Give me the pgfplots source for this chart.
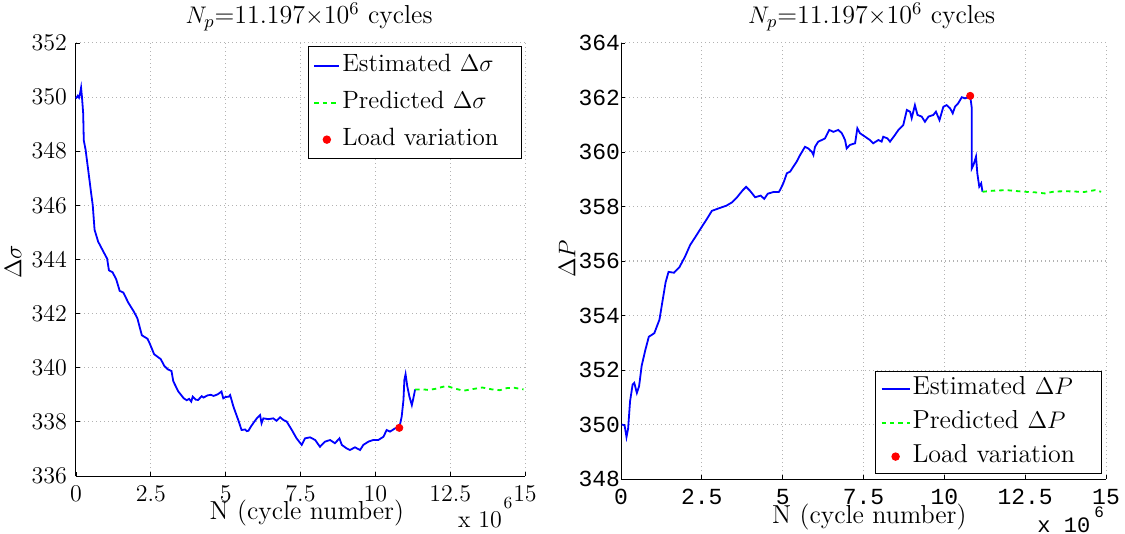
\documentclass[border=0pt]{standalone}
\usepackage{fontspec}
\usepackage{pgfplots}
\pgfplotsset{compat=1.18}
\newfontfamily\monofont{Liberation Mono}

\definecolor{mblue}{rgb}{0,0,1}
\definecolor{mgreen}{rgb}{0,1,0}
\definecolor{mred}{rgb}{1,0,0}

\pgfplotsset{
  matlab/.style={
    scale only axis, clip=false,
    axis x line*=bottom, axis y line*=left,
    axis line style={-, line width=0.5pt},
    xmin=0, xmax=15, xtick={0,2.5,5,7.5,10,12.5,15},
    grid=major,
    major grid style={gray!60, line width=0.5pt, dash pattern=on 0.5pt off 1.5pt},
    tick align=inside, major tick length=2pt,
    tick style={black, line width=0.4pt},
    xticklabel style={yshift=-1.5pt},
    xlabel style={font=\fontsize{13}{15}\selectfont},
    ylabel style={font=\fontsize{12}{14}\selectfont},
    legend cell align=left,
    legend style={font=\fontsize{12.5}{15}\selectfont, draw=black, line width=0.6pt,
      inner xsep=2.5pt, inner ysep=3.5pt, row sep=6.5pt,
      nodes={inner xsep=1pt, inner ysep=0pt, text height=9pt, text depth=3pt}},
  },
  est/.style={mblue, line width=0.9pt,
    legend image code/.code={\draw[##1] (0pt,0pt) -- (12.5pt,0pt);}},
  pred/.style={mgreen, line width=0.9pt, dash pattern=on 2.2pt off 2pt,
    legend image code/.code={\draw[##1] (0pt,0pt) -- (12.5pt,0pt);}},
  dot/.style={only marks, mark=*, mark size=1.8pt, mark options={draw=mred, fill=mred},
    legend image code/.code={\fill[mred] (6.25pt,0pt) circle (1.8pt);}},
  estR/.style={est, legend image code/.code={\draw[##1] (0pt,0pt) -- (14pt,0pt);}},
  predR/.style={pred, legend image code/.code={\draw[##1] (0pt,0pt) -- (14pt,0pt);}},
  dotR/.style={dot, legend image code/.code={\fill[mred] (7pt,0pt) circle (1.8pt);}},
}

% Delta sigma, estimated (N in 10^6 cycles)
\pgfplotstableread{
x y
0 349.95
0.06 350.05
0.1 349.98
0.13 350.1
0.17 350.35
0.2 350.0
0.24 349.4
0.26 348.4
0.32 348.06
0.42 347.2
0.5 346.5
0.56 346.0
0.62 345.1
0.74 344.66
0.92 344.28
1.04 344.03
1.1 343.6
1.22 343.53
1.34 343.28
1.46 342.84
1.58 342.78
1.75 342.4
1.93 342.08
2.05 341.83
2.2 341.2
2.39 341.07
2.47 340.88
2.61 340.5
2.83 340.32
2.95 340.07
3.07 339.94
3.19 339.88
3.25 339.5
3.42 339.12
3.6 338.87
3.7 338.8
3.78 338.85
3.85 338.75
3.9 338.93
4.0 338.82
4.08 338.81
4.2 338.95
4.26 338.9
4.4 338.98
4.5 339.0
4.6 338.96
4.74 339.02
4.86 339.12
4.92 338.87
5.0 338.92
5.1 338.93
5.15 338.99
5.26 338.56
5.42 338.07
5.53 337.70
5.65 337.72
5.7 337.66
5.76 337.67
5.84 337.82
5.92 337.95
6.04 338.13
6.15 338.25
6.2 337.95
6.26 338.13
6.43 338.10
6.59 338.13
6.7 338.04
6.82 338.17
6.93 338.07
7.04 338.01
7.21 337.70
7.37 337.39
7.54 337.15
7.65 337.39
7.82 337.43
7.99 337.33
8.15 337.08
8.32 337.27
8.49 337.33
8.65 337.21
8.8 337.39
8.88 337.15
9.04 337.02
9.15 336.96
9.32 337.06
9.49 336.96
9.6 337.15
9.77 337.27
9.93 337.33
10.1 337.33
10.27 337.45
10.38 337.70
10.49 337.64
10.66 337.76
10.8 337.78
10.88 338.19
10.94 338.81
10.97 339.55
11.01 339.76
11.07 339.30
11.14 338.93
11.22 338.62
11.27 338.87
11.33 339.2
}\sigest

% Delta sigma, predicted
\pgfplotstableread{
x y
11.33 339.2
11.6 339.2
11.78 339.18
12.0 339.22
12.2 339.28
12.38 339.33
12.6 339.25
12.94 339.15
13.3 339.22
13.57 339.27
13.9 339.2
14.16 339.17
14.4 339.25
14.64 339.26
14.95 339.2
}\sigpred

% Delta P, estimated
\pgfplotstableread{
x y
0.02 350.0
0.11 349.97
0.17 349.54
0.22 349.85
0.28 350.85
0.36 351.47
0.41 351.53
0.49 351.16
0.56 351.41
0.64 352.16
0.75 352.72
0.86 353.22
1.03 353.35
1.19 353.85
1.31 354.72
1.38 355.22
1.47 355.6
1.64 355.57
1.81 355.78
1.98 356.16
2.14 356.59
2.31 356.9
2.48 357.22
2.65 357.53
2.81 357.84
3.04 357.94
3.26 358.03
3.43 358.15
3.59 358.34
3.76 358.59
3.87 358.72
3.98 358.59
4.15 358.34
4.32 358.4
4.43 358.28
4.54 358.47
4.71 358.53
4.88 358.53
4.92 358.61
5.02 358.85
5.13 359.22
5.23 359.28
5.33 359.46
5.43 359.64
5.54 359.89
5.69 360.19
5.79 360.13
5.9 360.01
5.95 359.89
6.0 360.19
6.1 360.38
6.21 360.44
6.31 360.5
6.44 360.81
6.57 360.74
6.72 360.81
6.83 360.69
6.93 360.44
6.98 360.13
7.08 360.26
7.24 360.32
7.31 360.87
7.39 360.69
7.55 360.56
7.7 360.44
7.8 360.32
7.96 360.44
8.06 360.38
8.11 360.56
8.24 360.5
8.32 360.38
8.47 360.62
8.58 360.81
8.73 360.99
8.84 361.54
8.94 361.48
8.99 361.24
9.09 361.72
9.17 361.36
9.3 361.3
9.4 361.11
9.51 361.3
9.66 361.36
9.74 361.48
9.85 361.17
9.97 361.66
10.07 361.72
10.18 361.6
10.26 361.42
10.33 361.66
10.43 361.79
10.54 362.01
10.64 361.97
10.74 362.01
10.8 362.06
10.85 361.6
10.85 361.05
10.85 359.4
10.9 359.52
10.95 359.71
10.98 359.83
11.02 359.22
11.08 358.73
11.14 358.85
11.18 358.54
}\pest

% Delta P, predicted
\pgfplotstableread{
x y
11.18 358.54
11.5 358.58
11.93 358.6
12.2 358.57
12.5 358.54
12.8 358.52
13.11 358.48
13.4 358.55
13.75 358.56
14.03 358.55
14.31 358.53
14.66 358.6
14.85 358.54
}\ppred

\begin{document}
\begin{tikzpicture}
\useasboundingbox (0,0) rectangle (562.5pt,-267pt);

\begin{axis}[matlab,
  at={(38pt,-238pt)}, anchor=south west,
  width=224.5pt, height=216.5pt,
  ymin=336, ymax=352, ytick={336,338,...,352},
  tick label style={font=\fontsize{11.5}{13}\selectfont},
  yticklabel style={xshift=-1pt},
  title={$N_p$=11.197$\times$10$^6$ cycles},
  every axis title/.style={at={(rel axis cs:0.519,1.06)}, anchor=center,
    font=\fontsize{13}{15}\selectfont},
  xlabel={N (cycle number)},
  xlabel style={at={(rel axis cs:0.514,-0.085)}, anchor=center},
  ylabel={$\Delta\sigma$},
  ylabel style={at={(rel axis cs:-0.14,0.494)}, anchor=center},
  legend style={at={(rel axis cs:0.993,0.993)}, anchor=north east,
    nodes={text width=86pt}},
]
\addplot[est] table[x=x,y=y]{\sigest};
\addlegendentry{Estimated $\Delta\sigma$}
\addplot[pred] table[x=x,y=y]{\sigpred};
\addlegendentry{Predicted $\Delta\sigma$}
\addplot[dot] coordinates {(10.8,337.78)};
\addlegendentry{Load variation}
\node[font=\fontsize{12}{14}\selectfont] at (rel axis cs:0.900,-0.102) {x 10};
\node[font=\fontsize{8.5}{10}\selectfont] at (rel axis cs:0.962,-0.062) {6};
\end{axis}

\begin{axis}[matlab,
  at={(310.5pt,-239.5pt)}, anchor=south west,
  width=242.5pt, height=218pt,
  ymin=348, ymax=364, ytick={348,350,...,364},
  /pgf/number format/assume math mode=true,
  tick label style={font=\fontsize{11.5}{13}\monofont},
  yticklabel style={xshift=3pt},
  title={$N_p$=11.197$\times$10$^6$ cycles},
  every axis title/.style={at={(rel axis cs:0.517,1.06)}, anchor=center,
    font=\fontsize{13}{15}\selectfont},
  xlabel={N (cycle number)},
  xlabel style={at={(rel axis cs:0.512,-0.087)}, anchor=center},
  ylabel={$\Delta P$},
  ylabel style={at={(rel axis cs:-0.111,0.505)}, anchor=center},
  legend style={at={(rel axis cs:0.992,0.011)}, anchor=south east,
    font=\fontsize{13}{15}\selectfont,
    inner ysep=2.5pt, row sep=5pt, nodes={text width=91pt}},
]
\addplot[estR] table[x=x,y=y]{\pest};
\addlegendentry{Estimated $\Delta P$}
\addplot[predR] table[x=x,y=y]{\ppred};
\addlegendentry{Predicted $\Delta P$}
\addplot[dotR] coordinates {(10.8,362.06)};
\addlegendentry{Load variation}
\node[font=\fontsize{11}{13}\monofont] at (rel axis cs:0.913,-0.106) {x 10};
\node[font=\fontsize{8}{10}\monofont] at (rel axis cs:0.986,-0.076) {6};
\end{axis}
\end{tikzpicture}
\end{document}
